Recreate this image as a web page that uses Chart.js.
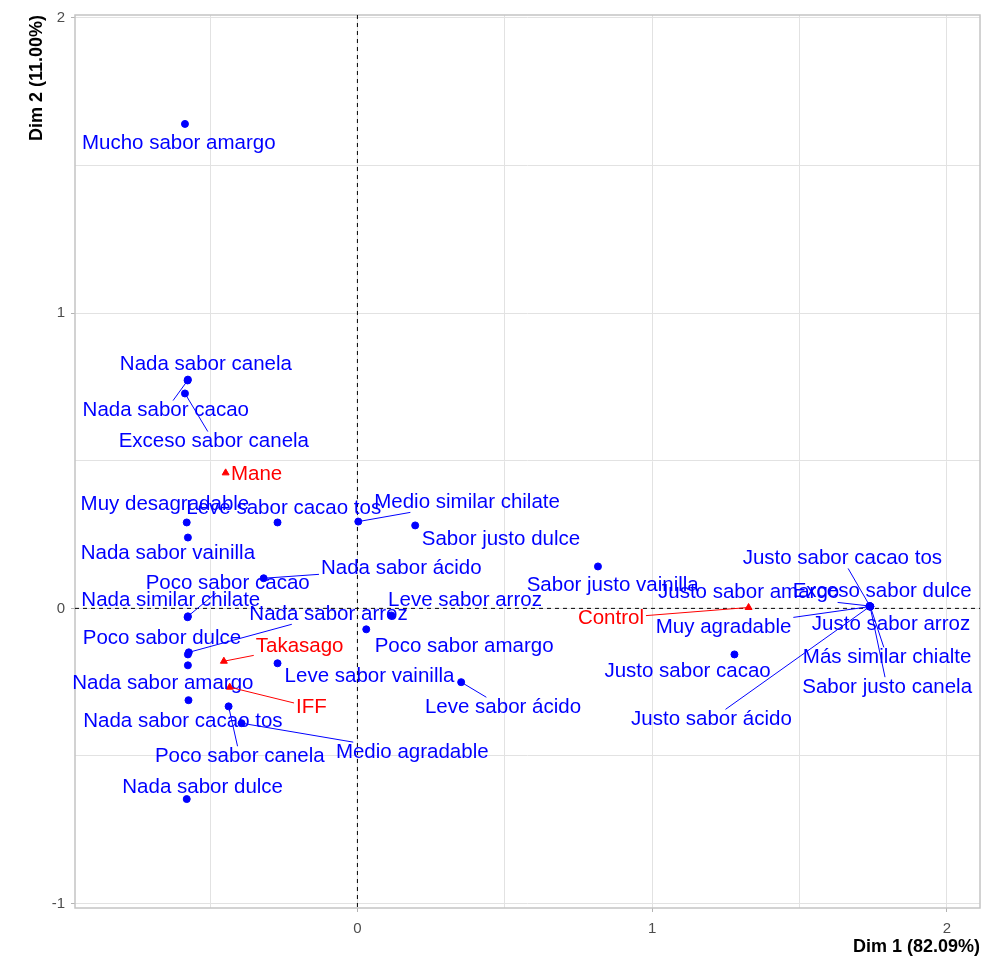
<!DOCTYPE html>
<html>
<head>
<meta charset="utf-8">
<script src="https://cdn.jsdelivr.net/npm/chart.js@4.4.1/dist/chart.umd.min.js"></script>
<style>
  html, body { margin: 0; padding: 0; background: #fff; }
  #wrap { width: 985px; height: 959px; }
</style>
</head>
<body>
<div id="wrap"><canvas id="myChart" width="985" height="959"></canvas></div>
<script>
// column categories (attributes) - coordinates on Dim 1 / Dim 2
const colNames = [
  'Mucho sabor amargo', 'Nada sabor canela', 'Nada sabor cacao', 'Exceso sabor canela',
  'Muy desagradable', 'Leve sabor cacao tos', 'Medio similar chilate', 'Nada sabor vainilla',
  'Sabor justo dulce', 'Nada sabor ácido', 'Sabor justo vainilla', 'Poco sabor cacao',
  'Nada similar chilate', 'Leve sabor arroz', 'Nada sabor arroz', 'Poco sabor amargo',
  'Poco sabor dulce', 'Nada sabor amargo', 'Leve sabor vainilla', 'Nada sabor cacao tos',
  'Poco sabor canela', 'Medio agradable', 'Leve sabor ácido', 'Nada sabor dulce',
  'Justo sabor cacao', 'Justo sabor cacao tos', 'Justo sabor amargo', 'Exceso sabor dulce',
  'Muy agradable', 'Justo sabor arroz', 'Más similar chialte', 'Sabor justo canela',
  'Justo sabor ácido'
];
const colDim1 = [
  -0.585, -0.575, -0.576, -0.585,
  -0.579, -0.271, 0.003, -0.575,
  0.196, -0.318, 0.816, -0.575,
  -0.576, 0.115, -0.572, 0.030,
  -0.575, -0.575, -0.271, -0.573,
  -0.437, -0.393, 0.352, -0.579,
  1.279, 1.739, 1.737, 1.740,
  1.738, 1.739, 1.740, 1.739,
  1.738
];
const colDim2 = [
  1.641, 0.775, 0.772, 0.728,
  0.291, 0.291, 0.294, 0.240,
  0.281, 0.102, 0.142, -0.027,
  -0.030, -0.024, -0.149, -0.071,
  -0.156, -0.193, -0.186, -0.311,
  -0.332, -0.389, -0.250, -0.646,
  -0.156, 0.007, 0.008, 0.007,
  0.006, 0.007, 0.006, 0.007,
  0.006
];

// row categories (samples)
const rowNames = ['Mane', 'Takasago', 'IFF', 'Control'];
const rowDim1 = [-0.447, -0.453, -0.433, 1.327];
const rowDim2 = [0.459, -0.179, -0.267, 0.003];

// text label centres, pushed away from the points so they do not overlap
const colTextX = [
  -0.606, -0.514, -0.650, -0.487,
  -0.653, -0.250, 0.372, -0.643,
  0.487, 0.149, 0.866, -0.440,
  -0.633, 0.365, -0.098, 0.362,
  -0.663, -0.660, 0.041, -0.592,
  -0.399, 0.186, 0.494, -0.525,
  1.120, 1.645, 1.327, 1.780,
  1.242, 1.810, 1.797, 1.797,
  1.201
];
const colTextY = [
  1.574, 0.826, 0.670, 0.565,
  0.352, 0.338, 0.359, 0.186,
  0.234, 0.135, 0.078, 0.085,
  0.027, 0.027, -0.020, -0.129,
  -0.102, -0.254, -0.230, -0.384,
  -0.501, -0.487, -0.335, -0.606,
  -0.213, 0.169, 0.054, 0.058,
  -0.064, -0.054, -0.166, -0.267,
  -0.376
];
const rowTextX = [-0.342, -0.196, -0.156, 0.860];
const rowTextY = [0.453, -0.129, -0.335, -0.034];

const xTitle = 'Dim 1 (82.09%)';
const yTitle = 'Dim 2 (11.00%)';
const xGrid = [-0.5, 0, 0.5, 1, 1.5, 2];
const yGrid = [-1, -0.5, 0, 0.5, 1, 1.5, 2];

const labelFont = '20.5px "Liberation Sans", Arial, sans-serif';

function toPoints(xs, ys) {
  return xs.map((x, i) => ({ x: x, y: ys[i] }));
}

// panel border plus the dashed zero lines
const panelPlugin = {
  id: 'panel',
  beforeDatasetsDraw(chart) {
    const ctx = chart.ctx;
    const a = chart.chartArea;
    const x0 = chart.scales.x.getPixelForValue(0);
    const y0 = chart.scales.y.getPixelForValue(0);
    ctx.save();
    ctx.strokeStyle = '#c4c4c4';
    ctx.lineWidth = 1.5;
    ctx.strokeRect(a.left, a.top, a.right - a.left, a.bottom - a.top);
    ctx.strokeStyle = '#000';
    ctx.lineWidth = 1;
    ctx.setLineDash([4, 4]);
    ctx.beginPath();
    ctx.moveTo(x0, a.top);
    ctx.lineTo(x0, a.bottom);
    ctx.moveTo(a.left, y0);
    ctx.lineTo(a.right, y0);
    ctx.stroke();
    ctx.restore();
  }
};

// text labels; a leader segment is drawn only when the label box is far from its point
const labelPlugin = {
  id: 'repelLabels',
  afterDatasetsDraw(chart) {
    const ctx = chart.ctx;
    const xs = chart.scales.x, ys = chart.scales.y;
    const groups = [
      { meta: chart.getDatasetMeta(0), names: colNames, tx: colTextX, ty: colTextY, color: '#0000FF' },
      { meta: chart.getDatasetMeta(1), names: rowNames, tx: rowTextX, ty: rowTextY, color: '#FF0000' }
    ];
    ctx.save();
    ctx.font = labelFont;
    ctx.textAlign = 'center';
    ctx.textBaseline = 'middle';
    groups.forEach(g => {
      g.names.forEach((name, i) => {
        const p = g.meta.data[i];
        const cx = xs.getPixelForValue(g.tx[i]);
        const cy = ys.getPixelForValue(g.ty[i]);
        const halfW = ctx.measureText(name).width / 2;
        const halfH = 9;
        const dx = cx - p.x, dy = cy - p.y;
        const gapX = Math.max(0, Math.abs(dx) - halfW);
        const gapY = Math.max(0, Math.abs(dy) - halfH);
        if (Math.hypot(gapX, gapY) > 13) {
          // run towards the label centre and stop at the padded box edge
          const tx = dx === 0 ? -Infinity : 1 - (halfW + 2) / Math.abs(dx);
          const ty = dy === 0 ? -Infinity : 1 - (halfH + 1) / Math.abs(dy);
          const t = Math.max(tx, ty);
          ctx.strokeStyle = g.color;
          ctx.lineWidth = 1;
          ctx.beginPath();
          ctx.moveTo(p.x, p.y);
          ctx.lineTo(p.x + t * dx, p.y + t * dy);
          ctx.stroke();
        }
        ctx.fillStyle = g.color;
        ctx.fillText(name, cx, cy);
      });
    });
    ctx.restore();
  }
};

function tickShade(c) {
  return Number.isInteger(c.tick.value) ? '#b3b3b3' : 'rgba(0,0,0,0)';
}

new Chart(document.getElementById('myChart'), {
  type: 'scatter',
  data: {
    datasets: [
      {
        label: 'col',
        data: toPoints(colDim1, colDim2),
        backgroundColor: '#0000FF',
        borderColor: '#0000FF',
        pointRadius: 3.5,
        pointStyle: 'circle'
      },
      {
        label: 'row',
        data: toPoints(rowDim1, rowDim2),
        backgroundColor: '#FF0000',
        borderColor: '#FF0000',
        pointRadius: 4,
        pointStyle: 'triangle'
      }
    ]
  },
  options: {
    responsive: false,
    animation: false,
    layout: { padding: { top: 14, right: 3, left: 0, bottom: 0 } },
    plugins: {
      legend: { display: false },
      tooltip: { enabled: false }
    },
    scales: {
      x: {
        type: 'linear',
        min: -0.958,
        max: 2.112,
        afterBuildTicks: s => { s.ticks = xGrid.map(v => ({ value: v })); },
        afterFit: s => { s.height = 51; },
        grid: { color: '#e2e2e2', lineWidth: 1, tickLength: 4, tickColor: tickShade },
        border: { display: false },
        ticks: {
          color: '#4d4d4d',
          font: { family: '"Liberation Sans", Arial, sans-serif', size: 15 },
          padding: 8,
          maxRotation: 0,
          callback: v => Number.isInteger(v) ? String(v) : ''
        },
        title: {
          display: true,
          text: xTitle,
          align: 'end',
          color: '#000',
          font: { family: '"Liberation Sans", Arial, sans-serif', size: 18, weight: 'bold' },
          padding: { top: 0, bottom: 1 }
        }
      },
      y: {
        type: 'linear',
        min: -1.015,
        max: 2.010,
        afterBuildTicks: s => { s.ticks = yGrid.map(v => ({ value: v })); },
        afterFit: s => { s.width = 75; },
        grid: { color: '#e2e2e2', lineWidth: 1, tickLength: 4, tickColor: tickShade },
        border: { display: false },
        ticks: {
          color: '#4d4d4d',
          font: { family: '"Liberation Sans", Arial, sans-serif', size: 15 },
          padding: 6,
          callback: v => Number.isInteger(v) ? String(v) : ''
        },
        title: {
          display: true,
          text: yTitle,
          align: 'end',
          color: '#000',
          font: { family: '"Liberation Sans", Arial, sans-serif', size: 18, weight: 'bold' },
          padding: { top: 26, bottom: 0 }
        }
      }
    }
  },
  plugins: [panelPlugin, labelPlugin]
});
</script>
</body>
</html>
